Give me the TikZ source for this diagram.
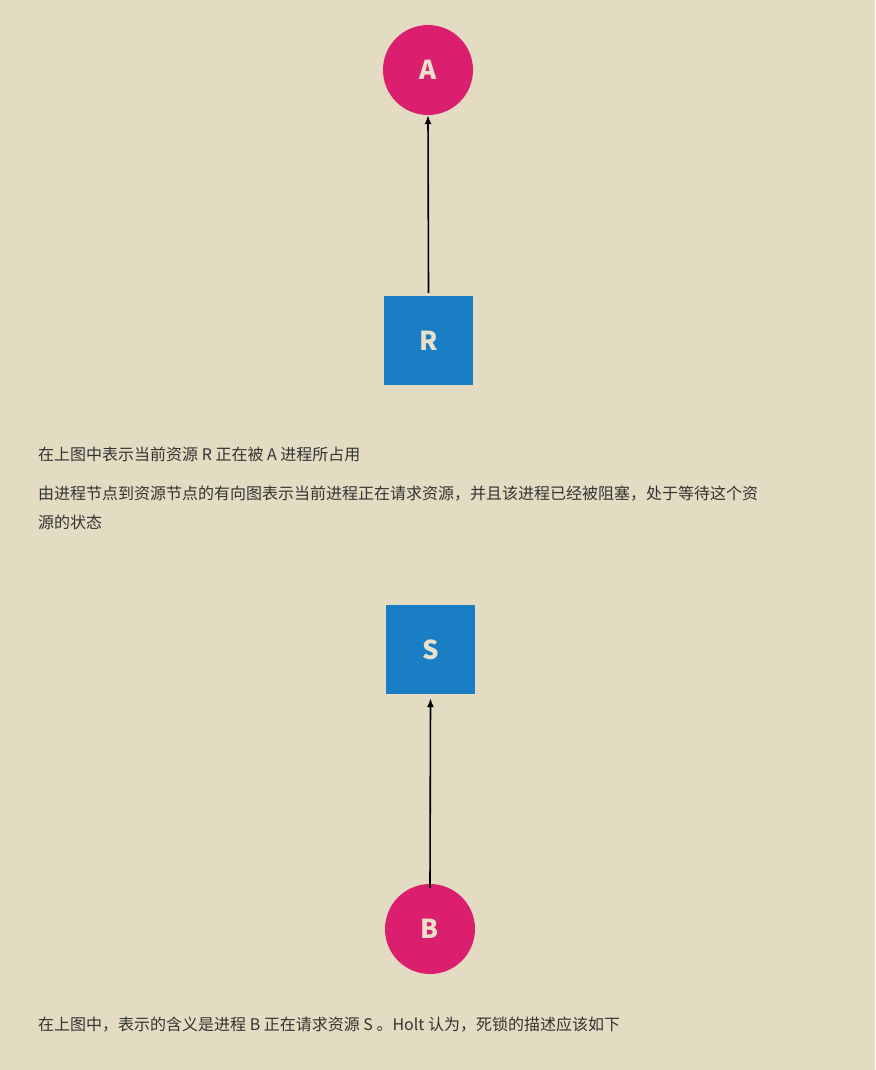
\documentclass[tikz,border=0pt]{standalone}
\usepackage{fontspec}
\setmainfont{Noto Sans CJK SC}
\usetikzlibrary{arrows.meta}
\definecolor{bg}{HTML}{E3DCC2}
\definecolor{pk}{HTML}{DC1E6E}
\definecolor{bl}{HTML}{1A7EC4}
\definecolor{lb}{HTML}{EBE0CC}
\definecolor{tx}{HTML}{333333}
\begin{document}
\begin{tikzpicture}[x=1pt,y=-1pt,
 proc/.style={circle,fill=pk,minimum size=90pt,inner sep=0pt,text=lb,font=\fontsize{26}{26}\selectfont\bfseries},
 res/.style={rectangle,fill=bl,minimum size=89pt,inner sep=0pt,text=lb,font=\fontsize{26}{26}\selectfont\bfseries},
 txt/.style={anchor=west,inner sep=0pt,text=tx,font=\fontsize{16}{28}\selectfont},
 arr/.style={-{Latex[length=9pt,width=7pt]},line width=1.6pt}]
\fill[bg] (0,0) rectangle (875,1070);
\useasboundingbox (0,0) rectangle (875,1070);
\node[proc] (A) at (428,70) {A};
\node[res] (R) at (428.5,340.5) {R};
\draw[arr] (R.north)++(0,-3) coordinate (r0) (r0) -- (A.south);
\node[txt] (t1) at (38,454) {在上图中表示当前资源 R 正在被 A 进程所占用};
\node[txt] (t2) at (38,494) {由进程节点到资源节点的有向图表示当前进程正在请求资源，并且该进程已经被阻塞，处于等待这个资};
\node[txt] (t3) at (38,522) {源的状态};
\node[res] (S) at (430.5,649.5) {S};
\node[proc] (B) at (430,929) {B};
\draw[arr] ([yshift=-4pt]B.north) -- ([yshift=-4pt]S.south);
\node[txt] (t4) at (38,1025) {在上图中，表示的含义是进程 B 正在请求资源 S 。Holt 认为，死锁的描述应该如下};
\end{tikzpicture}
\end{document}
